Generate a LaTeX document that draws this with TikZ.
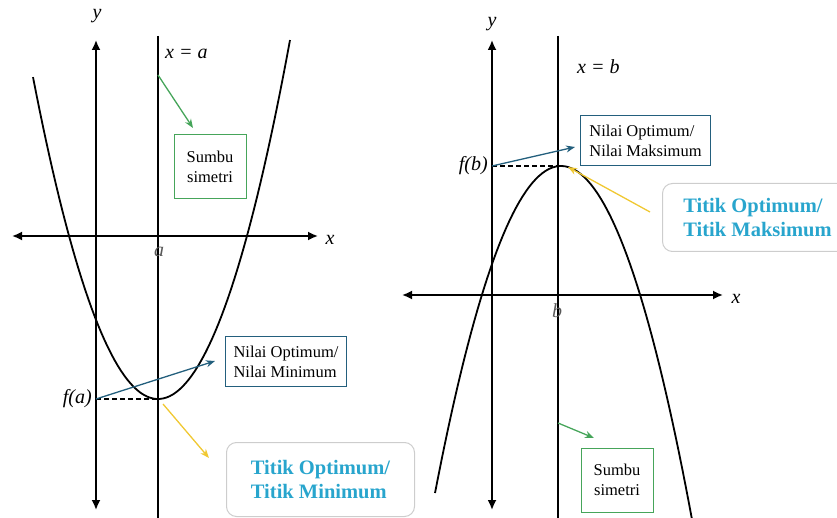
\documentclass[tikz,border=0pt]{standalone}
\usepackage{fontspec}
\setmainfont{Liberation Serif}
\usetikzlibrary{arrows.meta}

\definecolor{symgreen}{RGB}{70,165,90}
\definecolor{valblue}{RGB}{35,95,125}
\definecolor{ptyellow}{RGB}{240,200,50}
\definecolor{ptcyan}{RGB}{40,165,205}
\definecolor{softgray}{RGB}{205,205,205}

\tikzset{
  axis/.style={line width=1.8pt, {Latex[length=10pt,width=9pt]}-{Latex[length=10pt,width=9pt]}},
  symline/.style={line width=1.6pt},
  curve/.style={line width=1.8pt},
  lbl/.style={font=\fontsize{20}{22}\selectfont\itshape, inner sep=1pt},
  smallbox/.style={draw, line width=1pt, align=left, inner sep=5pt,
    font=\fontsize{16.5}{20}\selectfont},
  bigbox/.style={draw=softgray, line width=1pt, rounded corners=10pt, align=left,
    font=\fontsize{20.5}{24}\selectfont\bfseries, text=ptcyan},
  pointer/.style={line width=1.3pt, -{Stealth[length=9pt,width=7pt]}},
  guide/.style={line width=1.3pt, dash pattern=on 5pt off 3pt}
}

\begin{document}
\begin{tikzpicture}[x=1pt, y=-1pt]
  \useasboundingbox (0,0) rectangle (837,518);

  % -- Left graph: minimum --
  \coordinate (ltop) at (96,40);
  \coordinate (lbot) at (96,510);
  \coordinate (lxl) at (12,236);
  \coordinate (lxr) at (318,236);
  \draw[axis] (lbot) -- (ltop);
  \draw[axis] (lxl) -- (lxr);
  \node[lbl] (ly) at (97,16) {y};
  \node[lbl] (lx) at (330,240) {x};

  \coordinate (asymtop) at (158,36);
  \coordinate (asymbot) at (158,518);
  \draw[symline] (asymtop) -- (asymbot);
  \node[lbl, anchor=west] (xeqa) at (164,54) {x = a};
  \node[lbl, text=black!65] (alab) at (159,252) {a};

  \draw[curve, domain=33:290, samples=80] plot (\x, {399-2.06*((\x-158)/10)^2});

  \coordinate (amin) at (158,399);
  \coordinate (ayaxis) at (96,399);
  \draw[guide] (ayaxis) -- (amin);
  \node[lbl, anchor=east] (fa) at (93,399) {f(a)};

  % -- Left notes --
  \node[smallbox, draw=symgreen, minimum width=72pt, minimum height=64pt, align=center]
    (lsym) at (210,167) {Sumbu\\simetri};
  \coordinate (lsymfrom) at (158,75);
  \draw[pointer, symgreen] (lsymfrom) -- (193,128);

  \node[smallbox, draw=valblue, anchor=north west, minimum width=121pt, minimum height=50pt]
    (lval) at (225,336) {Nilai Optimum/\\Nilai Minimum};
  \draw[pointer, valblue] (ayaxis) -- (215,361);

  \node[bigbox, anchor=north west, minimum width=188pt, minimum height=74pt]
    (lpt) at (226,442) {Titik Optimum/\\Titik Minimum};
  \coordinate (aminb) at (163,404);
  \draw[pointer, ptyellow] (aminb) -- (209,458);

  % -- Right graph: maximum --
  \coordinate (rtop) at (492,40);
  \coordinate (rbot) at (492,510);
  \coordinate (rxl) at (402,295);
  \coordinate (rxr) at (723,295);
  \draw[axis] (rbot) -- (rtop);
  \draw[axis] (rxl) -- (rxr);
  \node[lbl] (ry) at (492,24) {y};
  \node[lbl] (rx) at (736,299) {x};

  \coordinate (bsymtop) at (558,36);
  \coordinate (bsymbot) at (558,518);
  \draw[symline] (bsymtop) -- (bsymbot);
  \node[lbl, anchor=west] (xeqb) at (576,67) {x = b};
  \node[lbl, text=black!65] (blab) at (557,311) {b};

  \draw[curve, domain=435:692, samples=80] plot (\x, {166+2.06*((\x-561)/10)^2});

  \coordinate (bmax) at (558,166);
  \coordinate (byaxis) at (492,166);
  \draw[guide] (byaxis) -- (bmax);
  \node[lbl, anchor=east] (fb) at (489,166) {f(b)};

  % -- Right notes --
  \node[smallbox, draw=valblue, anchor=north west, minimum width=130pt, minimum height=50pt]
    (rval) at (580,115) {Nilai Optimum/\\Nilai Maksimum};
  \draw[pointer, valblue] (byaxis) -- (575,147);

  \node[bigbox, anchor=north west, minimum width=190pt, minimum height=68pt]
    (rpt) at (662,183) {Titik Optimum/\\Titik Maksimum};
  \coordinate (rptfrom) at (650,212);
  \draw[pointer, ptyellow] (rptfrom) -- (568,167);

  \node[smallbox, draw=symgreen, minimum width=72pt, minimum height=64pt, align=center]
    (rsym) at (617,480) {Sumbu\\simetri};
  \coordinate (rsymfrom) at (558,423);
  \draw[pointer, symgreen] (rsymfrom) -- (594,438);

\end{tikzpicture}
\end{document}
